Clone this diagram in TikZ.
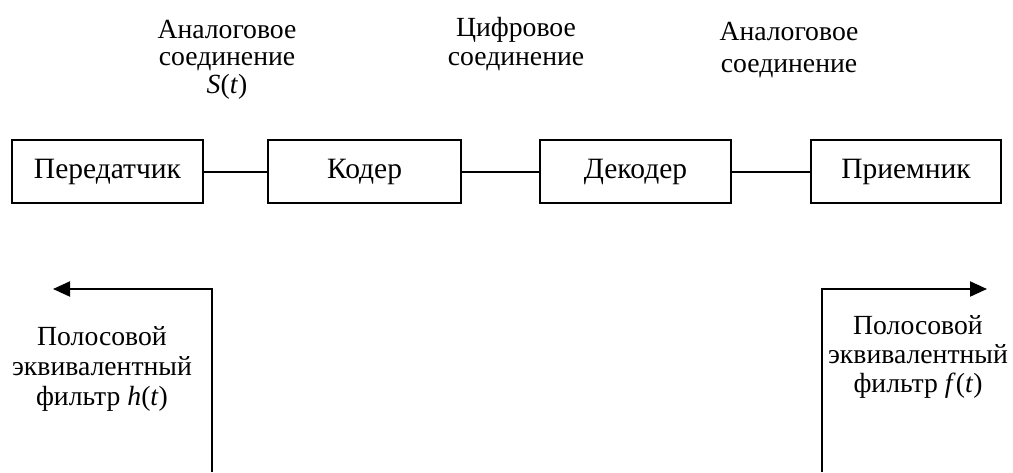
\documentclass[tikz,border=0pt]{standalone}
\usepackage{fontspec}
\setmainfont{Liberation Serif}
\usetikzlibrary{arrows.meta}
\begin{document}
\begin{tikzpicture}[x=1pt,y=-1pt,
  blk/.style={draw,line width=2pt,minimum height=63pt,inner sep=0pt,
    font=\fontsize{29.5}{30}\selectfont},
  lbl/.style={align=center,inner sep=0pt,anchor=base},
  conn/.style={line width=2pt},
  arr/.style={line width=2pt,-{Triangle[length=17pt,width=15pt]}}]
\useasboundingbox (0,0) rectangle (1013,472);
\node[blk,minimum width=191pt] (tx)  at (107.5,171.5) {Передатчик};
\node[blk,minimum width=193pt] (cod) at (364.5,171.5) {Кодер};
\node[blk,minimum width=191pt] (dec) at (635.5,171.5) {Декодер};
\node[blk,minimum width=190pt] (rx)  at (906,171.5) {Приемник};
\draw[conn] (tx) -- (cod);
\draw[conn] (cod) -- (dec);
\draw[conn] (dec) -- (rx);
\node[lbl,font=\fontsize{27.7}{27.5}\selectfont] (l1) at (227,93) {Аналоговое\\соединение\\\textit{S}(\textit{t})};
\node[lbl,font=\fontsize{27.7}{29}\selectfont] (l2) at (516,65) {Цифровое\\соединение};
\node[lbl,font=\fontsize{27.7}{32}\selectfont] (l3) at (789,72) {Аналоговое\\соединение};
\node[lbl,font=\fontsize{27.7}{30}\selectfont] (l4) at (102,405) {Полосовой\\эквивалентный\\фильтр \textit{h}(\textit{t})};
\node[lbl,font=\fontsize{27.7}{29}\selectfont] (l5) at (918,392) {Полосовой\\эквивалентный\\фильтр \textit{f}(\textit{t})};
\coordinate (bl) at (212,472);
\coordinate (tl) at (53,289);
\coordinate (br) at (822,472);
\coordinate (tr) at (987,289);
\draw[arr] (bl) |- (tl);
\draw[arr] (br) |- (tr);
\end{tikzpicture}
\end{document}
